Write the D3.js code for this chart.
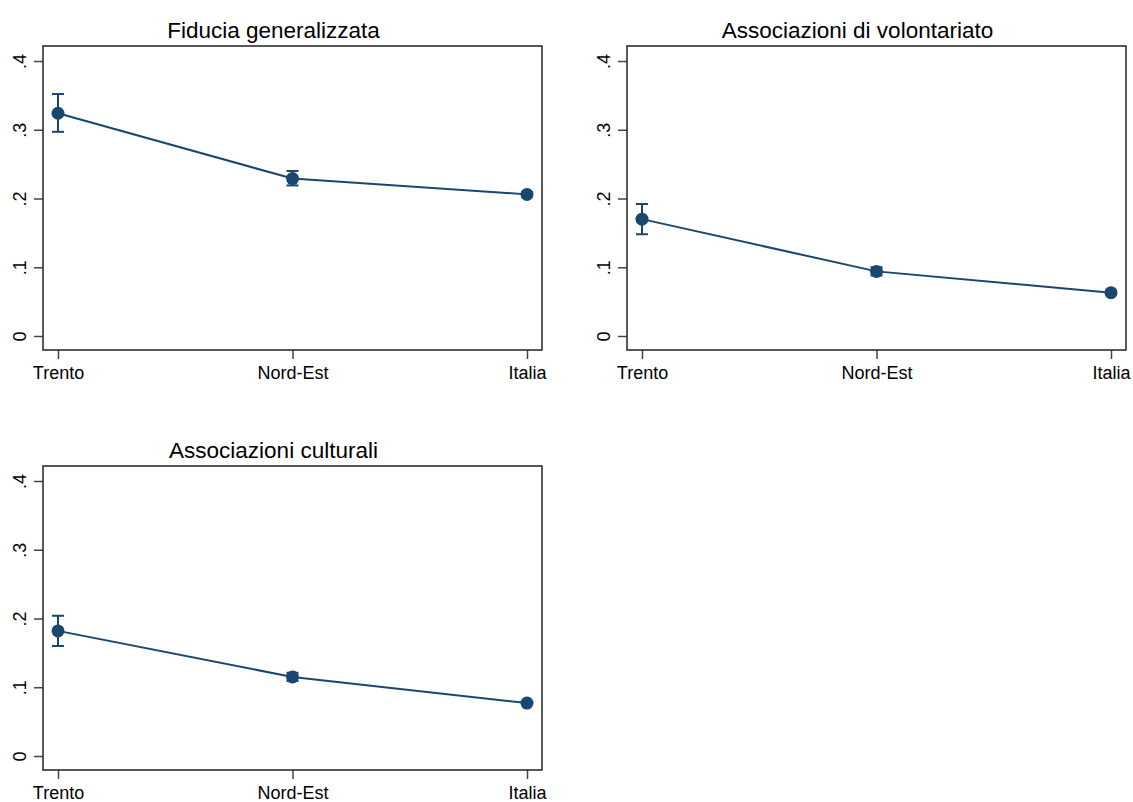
<!DOCTYPE html>
<meta charset="utf-8">
<script src="https://d3js.org/d3.v7.min.js"></script>
<style>
body { margin: 0; background: #fff; }
svg { font-family: "Liberation Sans", Arial, sans-serif; }
.frame { fill: none; stroke: #222; stroke-width: 1.5; }
.tick line { stroke: #444; stroke-width: 1.5; }
</style>
<svg width="1133" height="802"></svg>
<script>

// data
var categories = ["Trento", "Nord-Est", "Italia"];
var titles = ["Fiducia generalizzata", "Associazioni di volontariato", "Associazioni culturali"];
var means = [
  [0.324, 0.229, 0.206],
  [0.170, 0.094, 0.063],
  [0.182, 0.115, 0.077]
];
var lower = [
  [0.297, 0.219, 0.203],
  [0.148, 0.088, 0.061],
  [0.160, 0.109, 0.075]
];
var upper = [
  [0.352, 0.240, 0.209],
  [0.192, 0.100, 0.066],
  [0.204, 0.121, 0.079]
];
var yTicks = [0, 0.1, 0.2, 0.3, 0.4];
var yTickLabels = ["0", ".1", ".2", ".3", ".4"];

var navy = "#1a476f";
var svg = d3.select("svg");

// panel origins (plot box top-left)
var origins = [[43, 46], [627, 46], [43, 466]];
var w = 499, h = 304;

titles.forEach(function(title, i) {
  var g = svg.append("g")
      .attr("transform", "translate(" + origins[i][0] + "," + origins[i][1] + ")");

  var x = d3.scalePoint().domain(categories).range([15, w - 15]);
  var y = d3.scaleLinear().domain([0, 0.4]).range([h - 14, 15]);

  var rows = categories.map(function(c, j) {
    return {cat: c, m: means[i][j], lo: lower[i][j], hi: upper[i][j]};
  });

  // x axis
  var xa = g.append("g")
      .attr("transform", "translate(0," + h + ")")
      .call(d3.axisBottom(x).tickSize(9).tickPadding(7));
  xa.select(".domain").remove();
  xa.selectAll("text")
      .attr("fill", "#000")
      .style("font-size", "18px")
      .attr("dy", "0.71em");

  // y axis
  var ya = g.append("g")
      .call(d3.axisLeft(y).tickValues(yTicks)
        .tickFormat(function(d, k) { return yTickLabels[k]; })
        .tickSize(9));
  ya.select(".domain").remove();
  ya.selectAll("text")
      .attr("fill", "#000")
      .style("font-size", "18px")
      .attr("text-anchor", "middle")
      .attr("x", null).attr("dy", null)
      .attr("transform", "translate(-17,0) rotate(-90)");

  g.append("rect")
      .attr("class", "frame")
      .attr("width", w)
      .attr("height", h);

  // title (centred over the whole graph region, axis labels included)
  g.append("text")
      .attr("x", w / 2 - 19)
      .attr("y", -8)
      .attr("text-anchor", "middle")
      .style("font-size", "22.5px")
      .text(title);

  // connecting line
  g.append("path")
      .datum(rows)
      .attr("fill", "none")
      .attr("stroke", navy)
      .attr("stroke-width", 2)
      .attr("d", d3.line()
        .x(function(d) { return x(d.cat); })
        .y(function(d) { return y(d.m); }));

  // error bars
  var eb = g.selectAll(".eb").data(rows).enter().append("g").attr("class", "eb")
      .attr("stroke", navy).attr("stroke-width", 2);
  eb.append("line")
      .attr("x1", function(d) { return x(d.cat); })
      .attr("x2", function(d) { return x(d.cat); })
      .attr("y1", function(d) { return y(d.lo); })
      .attr("y2", function(d) { return y(d.hi); });
  eb.append("line")
      .attr("x1", function(d) { return x(d.cat) - 6; })
      .attr("x2", function(d) { return x(d.cat) + 6; })
      .attr("y1", function(d) { return y(d.lo); })
      .attr("y2", function(d) { return y(d.lo); });
  eb.append("line")
      .attr("x1", function(d) { return x(d.cat) - 6; })
      .attr("x2", function(d) { return x(d.cat) + 6; })
      .attr("y1", function(d) { return y(d.hi); })
      .attr("y2", function(d) { return y(d.hi); });

  // points
  g.selectAll(".pt").data(rows).enter().append("circle")
      .attr("class", "pt")
      .attr("cx", function(d) { return x(d.cat); })
      .attr("cy", function(d) { return y(d.m); })
      .attr("r", 6.5)
      .attr("fill", navy);
});

</script>
